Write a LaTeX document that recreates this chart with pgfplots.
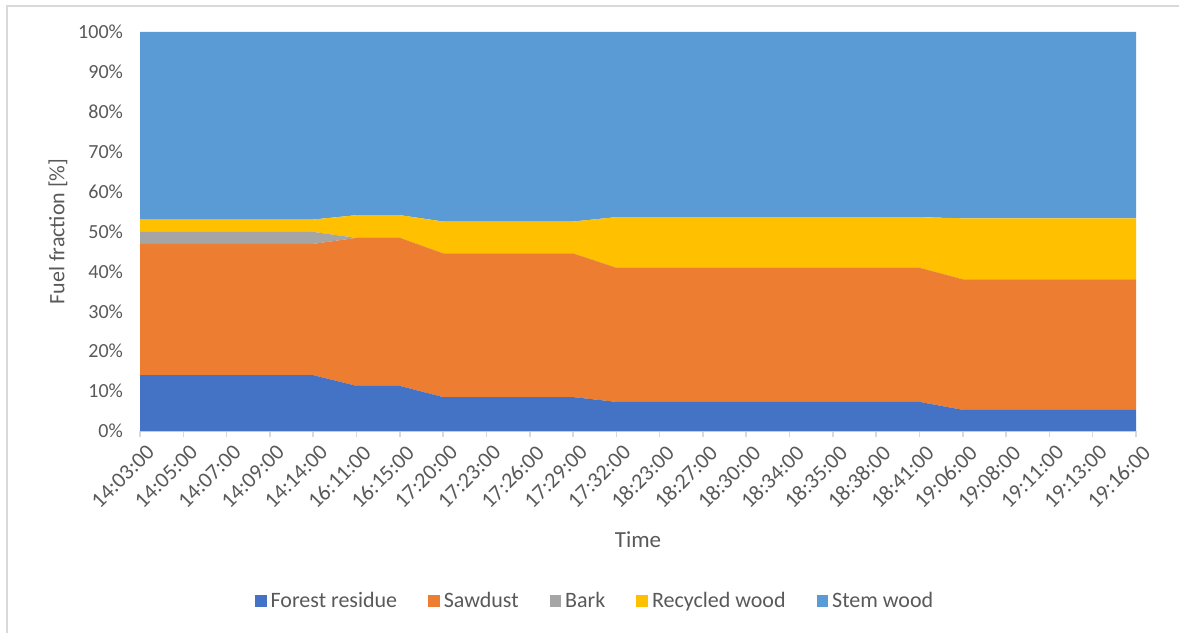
\documentclass[border=0pt]{standalone}
\usepackage{pgfplots}
\pgfplotsset{compat=1.18}
\usepackage{pgfplotstable}
\usepackage{fontspec}
\setmainfont{Carlito}
\definecolor{cfr}{HTML}{4472C4}
\definecolor{csd}{HTML}{ED7D31}
\definecolor{cba}{HTML}{A5A5A5}
\definecolor{crw}{HTML}{FFC000}
\definecolor{csw}{HTML}{5B9BD5}
\definecolor{txt}{HTML}{595959}
\definecolor{axl}{HTML}{D9D9D9}

\pgfplotstableread{
x fr sd bark rw sw
0 14.0 32.9 3.0 3.1 47.0
1 14.0 32.9 3.0 3.1 47.0
2 14.0 32.9 3.0 3.1 47.0
3 14.0 32.9 3.0 3.1 47.0
4 14.0 32.9 3.0 3.1 47.0
5 11.3 37.1 0.0 5.7 45.9
6 11.3 37.1 0.0 5.7 45.9
7 8.5 36.0 0.0 8.0 47.5
8 8.5 36.0 0.0 8.0 47.5
9 8.5 36.0 0.0 8.0 47.5
10 8.5 36.0 0.0 8.0 47.5
11 7.3 33.6 0.0 12.7 46.4
12 7.3 33.6 0.0 12.7 46.4
13 7.3 33.6 0.0 12.7 46.4
14 7.3 33.6 0.0 12.7 46.4
15 7.3 33.6 0.0 12.7 46.4
16 7.3 33.6 0.0 12.7 46.4
17 7.3 33.6 0.0 12.7 46.4
18 7.3 33.6 0.0 12.7 46.4
19 5.3 32.7 0.0 15.3 46.7
20 5.3 32.7 0.0 15.3 46.7
21 5.3 32.7 0.0 15.3 46.7
22 5.3 32.7 0.0 15.3 46.7
23 5.3 32.7 0.0 15.3 46.7
}\data

\begin{document}
\begin{tikzpicture}
\useasboundingbox (0,0) rectangle (589.5pt,316.5pt);
\draw[axl, line width=1pt] (3.5pt,0) -- (3.5pt,313.5pt) -- (589.5pt,313.5pt);
\begin{axis}[
  at={(70pt,101pt)}, anchor=south west,
  width=498pt, height=199.5pt, scale only axis,
  xmin=0, xmax=23, ymin=0, ymax=100,
  stack plots=y,
  axis x line*=bottom, axis y line*=left,
  x axis line style={axl, line width=0.8pt, -},
  y axis line style={draw=none},
  xtick={0,...,23},
  xticklabels={14:03:00,14:05:00,14:07:00,14:09:00,14:14:00,16:11:00,16:15:00,17:20:00,17:23:00,17:26:00,17:29:00,17:32:00,18:23:00,18:27:00,18:30:00,18:34:00,18:35:00,18:38:00,18:41:00,19:06:00,19:08:00,19:11:00,19:13:00,19:16:00},
  ytick={0,10,...,100},
  yticklabels={0\%,10\%,20\%,30\%,40\%,50\%,60\%,70\%,80\%,90\%,100\%},
  x tick style={axl, line width=0.8pt},
  xtick align=outside,
  major tick length=3pt,
  y tick style={draw=none},
  yticklabel style={font=\fontsize{10}{12}\selectfont, text=txt, xshift=-5pt},
  xticklabel style={font=\fontsize{11}{13}\selectfont, text=txt, rotate=45, anchor=east, xshift=3pt, yshift=-8pt},
  xlabel={Time}, ylabel={Fuel fraction [\%]},
  xlabel style={font=\fontsize{11.5}{13}\selectfont, text=txt, at={(axis description cs:0.5,-0.273)}, anchor=center},
  ylabel style={font=\fontsize{11}{13}\selectfont, text=txt, at={(axis description cs:-0.0823,0.5)}, anchor=center},
  legend columns=5,
  legend style={at={(axis description cs:0.458,-0.426)}, anchor=center, draw=none, fill=none,
    font=\fontsize{11}{13}\selectfont, text=txt,
    /tikz/every even column/.append style={column sep=13.5pt}},
  legend image code/.code={\fill[#1] (0pt,-2.8pt) rectangle (5.8pt,2.8pt);},
  clip=false,
]
\addplot[fill=cfr, draw=none] table[x=x, y=fr] {\data} \closedcycle;
\addplot[fill=csd, draw=none] table[x=x, y=sd] {\data} \closedcycle;
\addplot[fill=cba, draw=none] table[x=x, y=bark] {\data} \closedcycle;
\addplot[fill=crw, draw=none] table[x=x, y=rw] {\data} \closedcycle;
\addplot[fill=csw, draw=none] table[x=x, y=sw] {\data} \closedcycle;
\legend{Forest residue, Sawdust, Bark, Recycled wood, Stem wood}
\end{axis}
\end{tikzpicture}
\end{document}
